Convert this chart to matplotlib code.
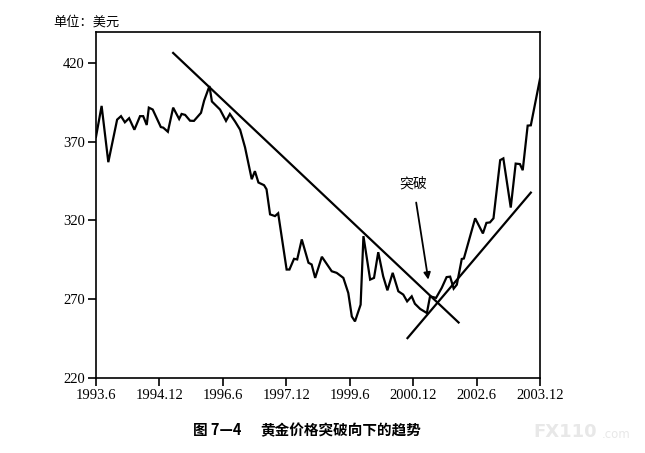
import matplotlib
matplotlib.use('Agg')
import matplotlib.pyplot as plt

# months counted from 1993.6
months = [0, 1.6, 3.5, 6.0, 7.1, 8.2, 9.4, 10.9, 12.5, 13.4, 14.4, 15.0, 16.1, 18.4,
          19.1, 20.4, 21.9, 23.6, 24.3, 25.3, 26.7, 27.8, 29.8, 30.7, 32.2, 32.9,
          35.2, 36.9, 38.0, 39.5, 40.9, 42.3, 44.2, 45.1, 46.1, 47.7, 48.4, 49.4,
          50.8, 51.7, 54.1, 54.9, 56.2, 57.1, 58.4, 60.3, 61.2, 62.2, 64.1, 66.9,
          68.3, 70.2, 71.6, 72.6, 73.5, 75.1, 75.9, 77.8, 78.9, 80.1, 81.5, 82.7,
          84.2, 85.8, 87.2, 88.3, 89.6, 90.5, 92.0, 93.9, 94.8, 96.5, 98.1, 99.5,
          100.5, 101.5, 102.4, 103.8, 104.4, 107.6, 109.8, 110.8, 111.8, 112.8,
          114.7, 115.6, 117.7, 119.1, 120.3, 121.1, 122.5, 123.4, 126.0]
price = [372.9, 392.6, 356.9, 383.9, 386.1, 382.2, 384.8, 377.5, 386.1, 386.1,
         380.5, 391.5, 390.3, 379.2, 378.8, 376.2, 391.5, 384.3, 387.5, 386.9,
         383.2, 383.1, 388.2, 396.0, 405.2, 395.4, 390.3, 383.1, 387.5, 382.6,
         377.5, 366.3, 346.1, 351.2, 344.0, 342.3, 339.7, 323.8, 322.7, 324.5,
         288.8, 288.8, 295.6, 295.2, 307.9, 293.1, 292.0, 283.5, 296.9, 287.7,
         286.7, 283.5, 273.9, 259.0, 255.9, 266.5, 310.0, 282.4, 283.5, 299.8,
         284.5, 275.6, 286.7, 275.0, 272.9, 268.6, 271.8, 267.1, 263.8, 261.2,
         271.8, 270.8, 277.1, 284.0, 284.3, 276.7, 279.2, 295.5, 295.8, 321.3,
         311.7, 318.4, 318.7, 321.3, 358.2, 359.3, 328.1, 356.0, 355.7, 351.8,
         380.1, 380.3, 409.8]

# trend lines (start month, start price, end month, end price)
down_trend = [21.9, 426.2, 102.9, 255.2]
up_trend = [88.4, 245.3, 123.4, 337.6]

tick_months = [0, 18, 36, 54, 72, 90, 108, 126]
tick_labels = ['1993.6', '1994.12', '1996.6', '1997.12', '1999.6', '2000.12', '2002.6', '2003.12']
y_ticks = [220, 270, 320, 370, 420]

cjk = ['Noto Sans CJK SC', 'DejaVu Sans']

fig = plt.figure(figsize=(6.45, 4.53), dpi=100)
ax = fig.add_axes([0.1488, 0.1656, 0.6884, 0.7638])

ax.plot(months, price, color='black', lw=1.6, solid_joinstyle='miter')
ax.plot([down_trend[0], down_trend[2]], [down_trend[1], down_trend[3]], color='black', lw=1.6)
ax.plot([up_trend[0], up_trend[2]], [up_trend[1], up_trend[3]], color='black', lw=1.6)

ax.annotate('突破', xy=(94.3, 282.4), xytext=(90.0, 343.6), ha='center', va='center',
            fontsize=10, family=cjk, weight='medium',
            arrowprops=dict(arrowstyle='-|>', color='black', lw=1.3, shrinkA=7, shrinkB=0,
                            mutation_scale=10))

ax.set_xlim(0, 126)
ax.set_ylim(220, 439.5)
ax.set_xticks(tick_months)
ax.set_xticklabels(tick_labels, family='Liberation Serif', fontsize=10.5)
ax.set_yticks(y_ticks)
ax.set_yticklabels([str(v) for v in y_ticks], family='Liberation Serif', fontsize=10.5)
ax.tick_params(direction='out', length=6, width=1.2, pad=2)
for sp in ax.spines.values():
    sp.set_linewidth(1.2)

fig.text(0.082, 0.951, '单位：美元', fontsize=9.5, family=cjk, weight='medium',
         va='center', ha='left')
fig.text(193 / 645, 0.051, '图 7—4', fontsize=10.5, family=cjk,
         weight='bold', va='center', ha='left')
fig.text(260 / 645, 0.051, '黄金价格突破向下的趋势', fontsize=10.5, family=cjk,
         weight='bold', va='center', ha='left')
fig.text(533 / 645, 0.046, 'FX110', fontsize=13, family='DejaVu Sans', weight='bold',
         color='#e8e8e8', va='center', ha='left')
fig.text(602 / 645, 0.040, '.com', fontsize=8.5, family='DejaVu Sans', color='#e8e8e8',
         va='center', ha='left')

fig.savefig('out.png', dpi=100)
